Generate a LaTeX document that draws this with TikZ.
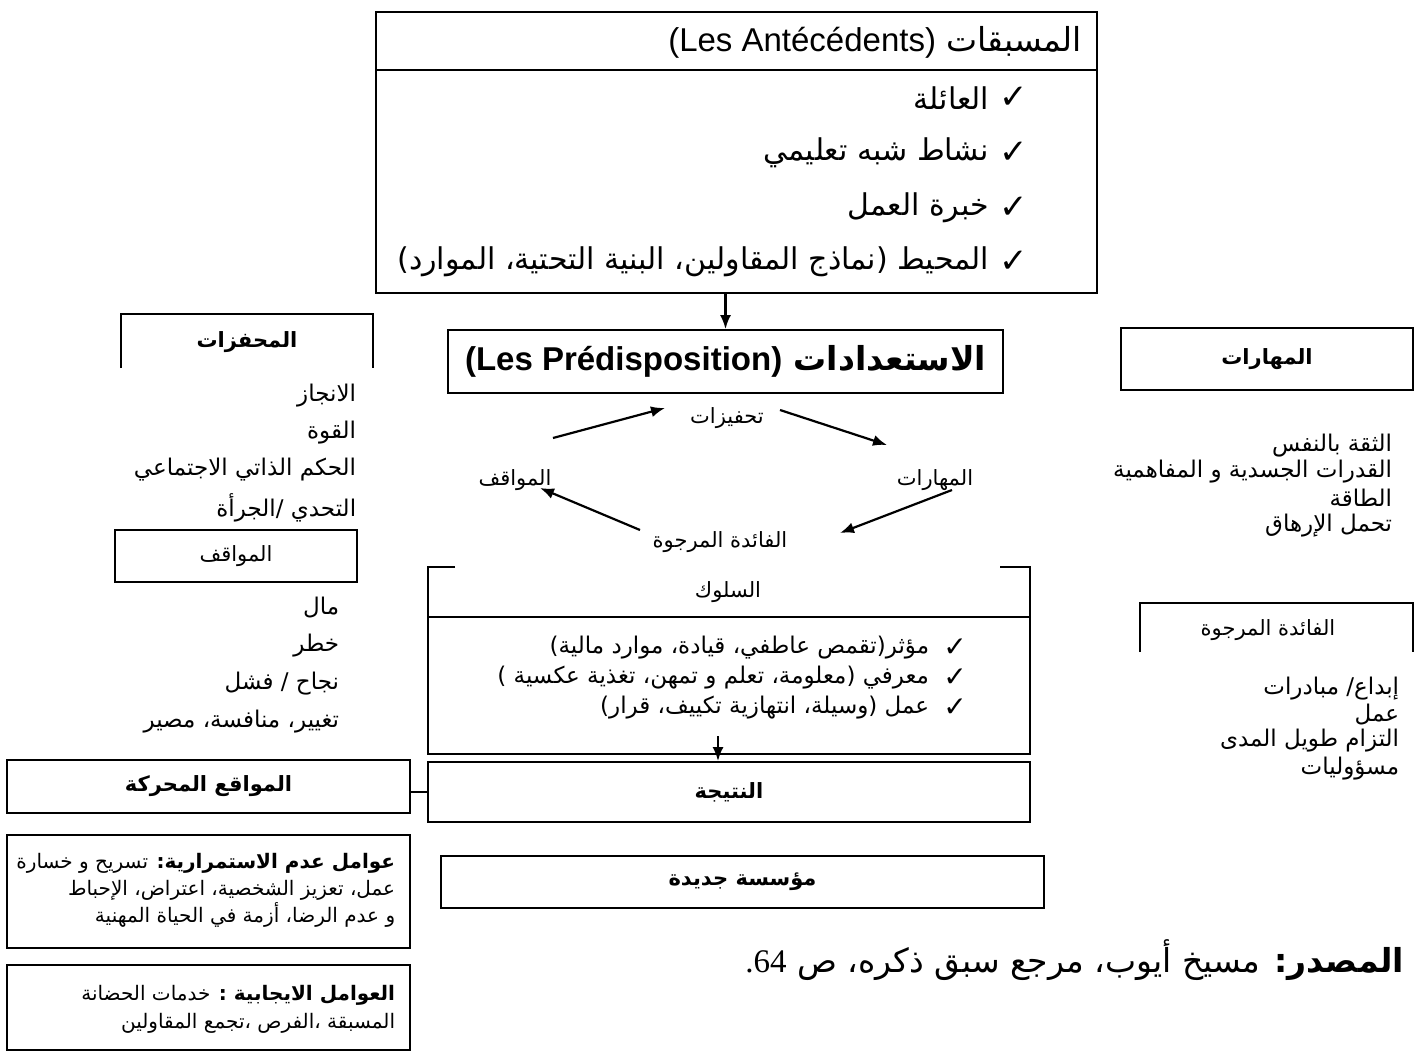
\documentclass[tikz,border=0pt]{standalone}
\usepackage{fontspec}
\setmainfont{Liberation Sans}
\newfontfamily\ar[Script=Arabic]{DejaVu Sans}
\newfontfamily\srf{Liberation Serif}
\TeXXeTstate=1
\usetikzlibrary{arrows.meta,positioning,calc}

\tikzset{
  cadre/.style={draw, line width=1.8pt, inner sep=0pt},
  txt/.style={font=\ar\fontsize{23}{27}\selectfont, inner sep=0pt},
  gras/.style={font=\ar\bfseries\fontsize{21}{25}\selectfont, inner sep=0pt},
  liste/.style={txt, anchor=east},
  coche/.style={font=\ar\fontsize{34}{38}\selectfont, inner sep=0pt},
  fleche/.style={->, line width=2.2pt},
}

\begin{document}
\begin{tikzpicture}[x=1pt,y=-1pt,line width=1.8pt,>={Latex[length=14pt,width=11pt]}]
\useasboundingbox (0,0) rectangle (1416,1054);

% les antecedents
\node[cadre, minimum width=721, minimum height=281] (antec) at (736.5,152.5) {};
\draw (376,70) -- (1097,70);
\node[anchor=east, inner sep=0pt, font=\ar\fontsize{33}{37}\selectfont] (titreA) at (1083,42) {\beginR المسبقات \beginL\rmfamily (Les Antécédents)\endL\endR};
\node[coche] (cA1) at (1014,98) {✓};
\node[coche] (cA2) at (1014,153) {✓};
\node[coche] (cA3) at (1014,208) {✓};
\node[coche] (cA4) at (1014,262) {✓};
\node[liste, font=\ar\fontsize{30}{34}\selectfont] (iA1) at (990,98) {\beginR العائلة\endR};
\node[liste, font=\ar\fontsize{30}{34}\selectfont] (iA2) at (990,153) {\beginR نشاط شبه تعليمي\endR};
\node[liste, font=\ar\fontsize{30}{34}\selectfont] (iA3) at (990,208) {\beginR خبرة العمل\endR};
\node[liste, font=\ar\fontsize{30}{34}\selectfont] (iA4) at (990,262) {\beginR المحيط (نماذج المقاولين، البنية التحتية، الموارد)\endR};

% les predispositions
\node[cadre, minimum width=555, minimum height=63, font=\ar\bfseries\fontsize{33}{37}\selectfont] (predis) at (725.5,361.5) {\beginR الاستعدادات \beginL\rmfamily\bfseries (Les Prédisposition)\endL\endR};
\draw[fleche] (antec.south -| predis.north) -- (predis.north);

% le cycle
\node[txt, font=\ar\fontsize{21}{25}\selectfont] (tahfiz) at (727,418) {\beginR تحفيزات\endR};
\node[txt, font=\ar\fontsize{21}{25}\selectfont] (mahar) at (935,480) {\beginR المهارات\endR};
\node[txt, font=\ar\fontsize{21}{25}\selectfont] (faida) at (720,542) {\beginR الفائدة المرجوة\endR};
\node[txt, font=\ar\fontsize{21}{25}\selectfont] (mawaq) at (515,480) {\beginR المواقف\endR};
\draw[fleche] ([shift={(38,-42)}]mawaq.center) -- ([shift={(-62,-10)}]tahfiz.center);
\draw[fleche] ([shift={(53,-8)}]tahfiz.center) -- ([shift={(-48,-35)}]mahar.center);
\draw[fleche] ([shift={(17,10)}]mahar.center) -- ([shift={(120,-9)}]faida.center);
\draw[fleche] ([shift={(-80,-12)}]faida.center) -- ([shift={(25,8)}]mawaq.center);

% colonne gauche
\draw (121,368) -- (121,314) -- (373,314) -- (373,368);
\node[gras] (mohaf) at (247,342) {\beginR المحفزات\endR};
\node[liste] (g1) at (357,396) {\beginR الانجاز\endR};
\node[liste] (g2) at (357,433) {\beginR القوة\endR};
\node[liste] (g3) at (357,470) {\beginR الحكم الذاتي الاجتماعي\endR};
\node[liste] (g4) at (357,508) {\beginR التحدي /الجرأة\endR};
\node[cadre, txt, font=\ar\fontsize{21}{25}\selectfont, minimum width=242, minimum height=52] (mawaqif) at (236,556) {\beginR المواقف\endR};
\node[liste] (g5) at (340,608) {\beginR مال\endR};
\node[liste] (g6) at (340,646) {\beginR خطر\endR};
\node[liste] (g7) at (340,684) {\beginR نجاح / فشل\endR};
\node[liste] (g8) at (340,722) {\beginR تغيير، منافسة، مصير\endR};
\node[cadre, gras, minimum width=403, minimum height=53] (mawaqi3) at (208.5,786.5) {\beginR المواقع المحركة\endR};
\node[cadre, minimum width=403, minimum height=113] (adam) at (208.5,891.5) {};
\node[txt, align=right, anchor=north east, font=\ar\fontsize{20}{27}\selectfont] (adamT) at (396,852) {\beginR{\bfseries عوامل عدم الاستمرارية:} تسريح و خسارة\endR\\ \beginR عمل، تعزيز الشخصية، اعتراض، الإحباط\endR\\ \beginR و عدم الرضا، أزمة في الحياة المهنية\endR};
\node[cadre, minimum width=403, minimum height=85] (ijabi) at (208.5,1007.5) {};
\node[txt, align=right, anchor=north east, font=\ar\fontsize{20}{28}\selectfont] (ijabiT) at (396,984) {\beginR{\bfseries العوامل الايجابية :} خدمات الحضانة\endR\\ \beginR المسبقة ،الفرص ،تجمع المقاولين\endR};

% le comportement
\draw (455,567) -- (428,567) -- (428,754) -- (1030,754) -- (1030,567) -- (1000,567);
\draw (428,617) -- (1030,617);
\node[txt, font=\ar\fontsize{21}{25}\selectfont] (suluk) at (728,592) {\beginR السلوك\endR};
\node[coche, font=\ar\fontsize{28}{32}\selectfont] (cS1) at (955,648) {✓};
\node[coche, font=\ar\fontsize{28}{32}\selectfont] (cS2) at (955,678) {✓};
\node[coche, font=\ar\fontsize{28}{32}\selectfont] (cS3) at (955,708) {✓};
\node[liste] (iS1) at (930,648) {\beginR مؤثر(تقمص عاطفي، قيادة، موارد مالية)\endR};
\node[liste] (iS2) at (930,678) {\beginR معرفي (معلومة، تعلم و تمهن، تغذية عكسية )\endR};
\node[liste] (iS3) at (930,708) {\beginR عمل (وسيلة، انتهازية تكييف، قرار)\endR};
\coordinate (sulukbas) at (718,736);

\node[cadre, gras, minimum width=602, minimum height=60] (natija) at (729,792) {\beginR النتيجة\endR};
\draw[fleche] (sulukbas) -- (sulukbas |- natija.north);
\draw (natija.west) -- (natija.west -| mawaqi3.east);
\node[cadre, gras, minimum width=603, minimum height=52] (moassasa) at (742.5,882) {\beginR مؤسسة جديدة\endR};

% colonne droite
\node[cadre, gras, minimum width=292, minimum height=62] (maharat) at (1267,359) {\beginR المهارات\endR};
\node[liste] (d1) at (1393,446) {\beginR الثقة بالنفس\endR};
\node[liste] (d2) at (1393,472) {\beginR القدرات الجسدية و المفاهمية\endR};
\node[liste] (d3) at (1393,498) {\beginR الطاقة\endR};
\node[liste] (d4) at (1393,526) {\beginR تحمل الإرهاق\endR};
\draw (1140,652) -- (1140,603) -- (1413,603) -- (1413,652);
\node[txt, font=\ar\fontsize{21}{25}\selectfont] (faidaB) at (1268,630) {\beginR الفائدة المرجوة\endR};
\node[liste] (d5) at (1400,689) {\beginR إبداع/ مبادرات\endR};
\node[liste] (d6) at (1400,715) {\beginR عمل\endR};
\node[liste] (d7) at (1400,741) {\beginR التزام طويل المدى\endR};
\node[liste] (d8) at (1400,769) {\beginR مسؤوليات\endR};

% source
\node[anchor=east, inner sep=0pt, font=\ar\fontsize{33}{37}\selectfont] (masdar) at (1405,960) {\beginR{\bfseries المصدر:} مسيخ أيوب، مرجع سبق ذكره، ص \beginL{\srf 64}\endL{\srf .}\endR};
\end{tikzpicture}
\end{document}
